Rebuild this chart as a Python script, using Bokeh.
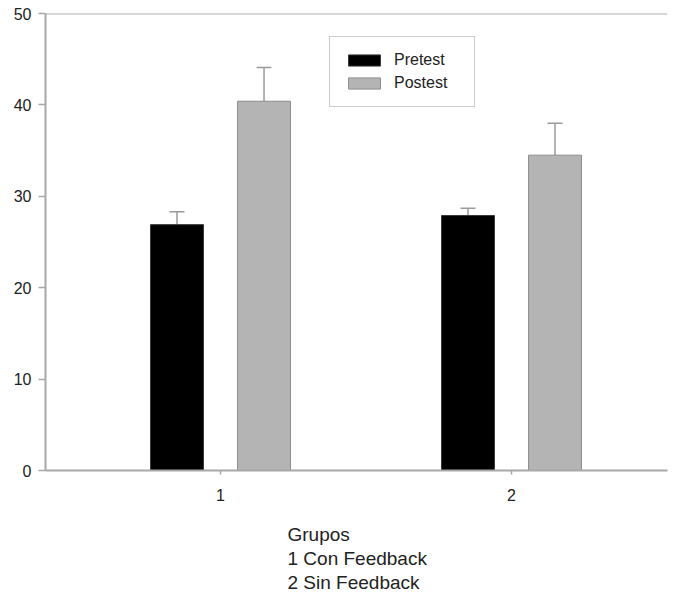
from bokeh.plotting import figure
from bokeh.models import ColumnDataSource, Range1d, FixedTicker, Legend, LegendItem, Span, Title
from bokeh.embed import file_html
from bokeh.resources import INLINE

groups = [1, 2]
group_tick_labels = ["1", "2"]
pretest = [26.9, 27.9]
pretest_err = [1.4, 0.8]
postest = [40.4, 34.5]
postest_err = [3.7, 3.5]
y_ticks = [0, 10, 20, 30, 40, 50]
x_label_lines = ["Grupos", "1 Con Feedback", "2 Sin Feedback"]

offset = 0.1495
bar_w = 0.182

p = figure(width=675, height=594, output_backend="svg", toolbar_location=None,
           x_range=Range1d(0.3986, 2.536), y_range=Range1d(0, 50),
           min_border_left=45, min_border_right=8, min_border_top=13, min_border_bottom=124)
p.outline_line_color = None
p.grid.visible = False
p.background_fill_color = "white"

pre_src = ColumnDataSource(dict(x=[g - offset for g in groups], top=pretest,
                                err=[v + e for v, e in zip(pretest, pretest_err)]))
post_src = ColumnDataSource(dict(x=[g + offset for g in groups], top=postest,
                                 err=[v + e for v, e in zip(postest, postest_err)]))

# error bars (upper only)
for src in (pre_src, post_src):
    p.segment(x0="x", y0="top", x1="x", y1="err", source=src, line_color="#9a9a9a", line_width=1.5)
    p.scatter(x="x", y="err", source=src, marker="dash", size=15, line_color="#9a9a9a", line_width=1.5)

r_pre = p.vbar(x="x", top="top", width=bar_w, bottom=0, source=pre_src,
               fill_color="#000000", line_color="#3a3a3a", line_width=1)
r_post = p.vbar(x="x", top="top", width=bar_w, bottom=0, source=post_src,
                fill_color="#b4b4b4", line_color="#8e8e8e", line_width=1)

# top line of frame
p.add_layout(Span(location=50, dimension="width", line_color="#b0b0b0", line_width=2))

legend = Legend(items=[LegendItem(label="Pretest", renderers=[r_pre]),
                       LegendItem(label="Postest", renderers=[r_post])],
                location=(284, 363))
legend.margin = 0
legend.border_line_color = "#999999"
legend.border_line_width = 1
legend.label_text_font = "Arial"
legend.label_text_font_size = "16px"
legend.label_text_color = "#222222"
legend.glyph_width = 40
legend.glyph_height = 14
legend.spacing = 5
legend.padding = 14
legend.label_standoff = 10
legend.label_height = 14
legend.label_width = 66
p.add_layout(legend, "center")

# axes
p.yaxis.ticker = FixedTicker(ticks=y_ticks)
p.xaxis.ticker = FixedTicker(ticks=groups)
p.xaxis.major_label_overrides = {g: l for g, l in zip(groups, group_tick_labels)}
for ax in (p.xaxis, p.yaxis):
    ax.axis_line_color = "#a8a8a8"
    ax.axis_line_width = 2
    ax.major_tick_line_color = "#a8a8a8"
    ax.major_tick_line_width = 1.5
    ax.minor_tick_line_color = None
    ax.major_label_text_font = "Arial"
    ax.major_label_text_color = "#222222"
    ax.major_label_text_font_size = "16px"
p.yaxis.major_tick_out = 7
p.yaxis.major_tick_in = 0
p.yaxis.major_label_standoff = 7
p.xaxis.major_tick_out = 4
p.xaxis.major_tick_in = 0
p.xaxis.major_label_standoff = 14

# spacer between axis and the multi-line x label
p.add_layout(Title(text=" ", text_font_size="1px", standoff=15), "below")
# multi-line x label, left aligned, as stacked titles below the axis
line_standoffs = [1, 1, 0]
for txt, so in zip(x_label_lines, line_standoffs):
    t = Title(text=txt, align="left", offset=242, text_font="Arial", text_font_size="19px",
              text_font_style="normal", text_color="#222222", standoff=so)
    p.add_layout(t, "below")

html = file_html(p, INLINE)
open("out.html", "w").write(html)
